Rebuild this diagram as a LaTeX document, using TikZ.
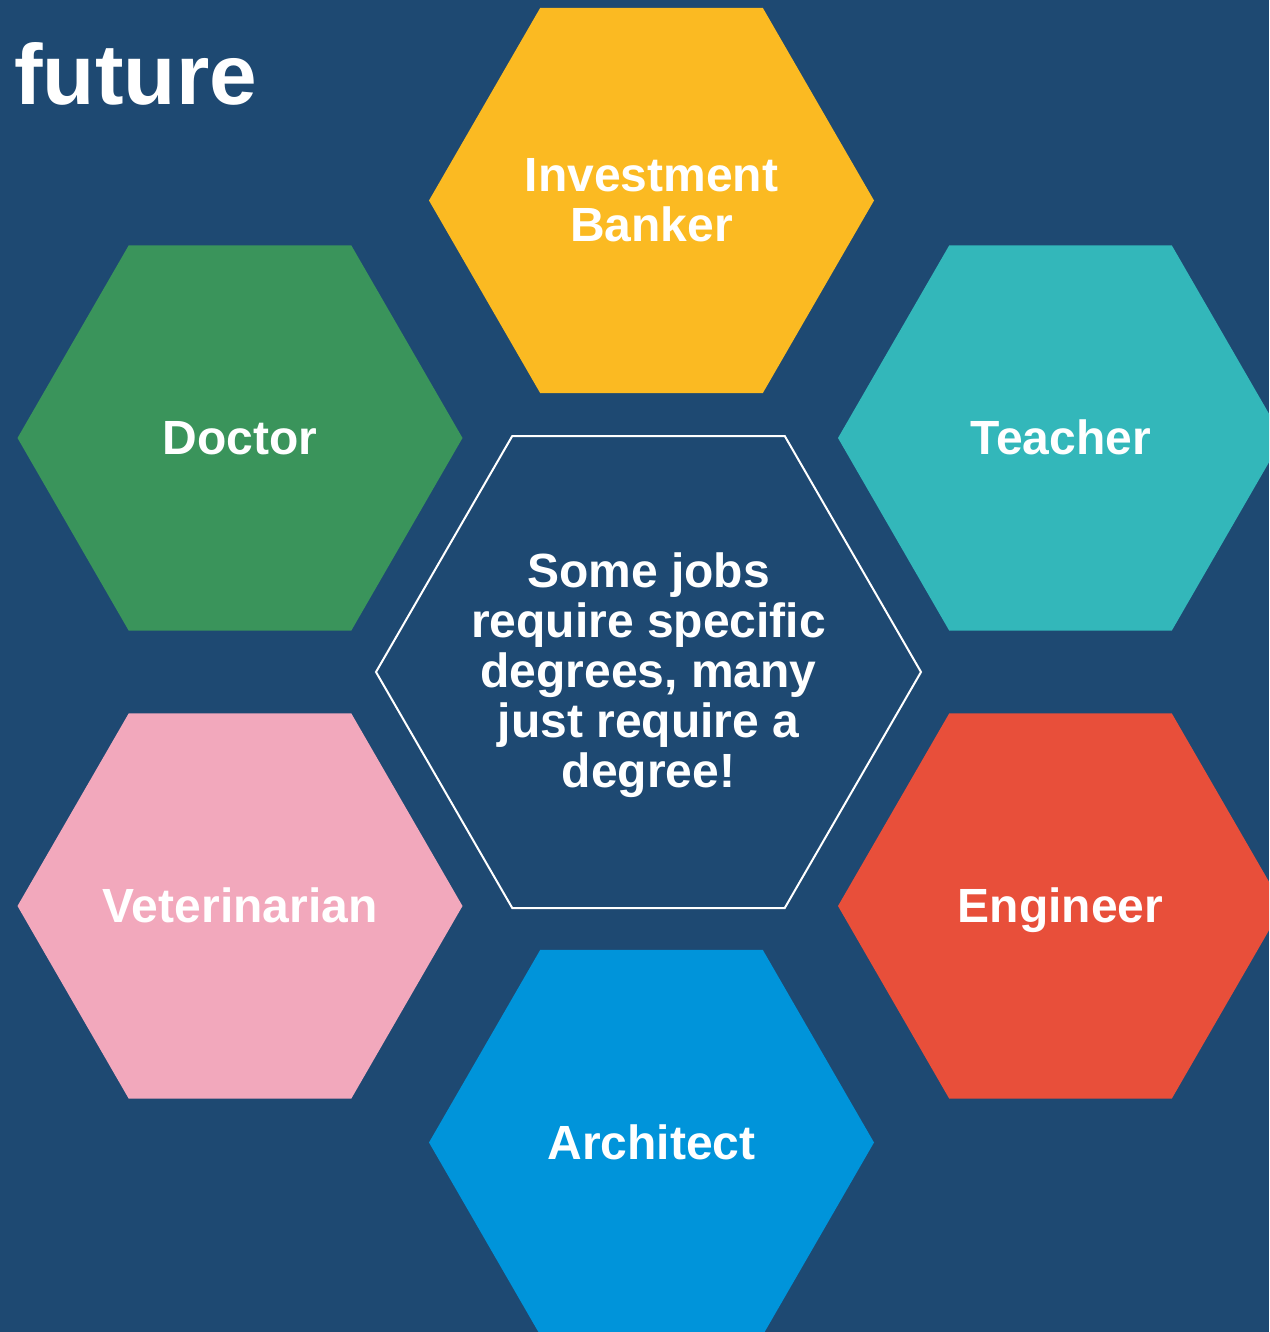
\documentclass[tikz,border=0pt]{standalone}
\usepackage{fontspec}
\setmainfont{Liberation Sans}
\usetikzlibrary{shapes.geometric}

\definecolor{bgblue}{RGB}{30,73,114}
\definecolor{hexyellow}{RGB}{251,186,34}
\definecolor{hexgreen}{RGB}{58,148,91}
\definecolor{hexteal}{RGB}{51,183,186}
\definecolor{hexpink}{RGB}{242,168,188}
\definecolor{hexred}{RGB}{232,79,58}
\definecolor{hexblue}{RGB}{0,148,218}

\begin{document}
\begin{tikzpicture}[x=0.5pt,y=-0.5pt,
  hex/.style={regular polygon,regular polygon sides=6,minimum size=222.5pt,
    inner sep=0pt,outer sep=0pt},
  main hex/.style={hex,minimum size=272.5pt,draw=white,line width=1pt,fill=bgblue},
  hex text/.style={inner sep=0pt,text=white,align=center,
    font=\fontsize{24}{25}\selectfont\bfseries},
  one line/.style={hex text,text height=21.7pt,text depth=5.1pt}]

  \useasboundingbox (0,0) rectangle (1269,1332);
  \clip (0,0) rectangle (1269,1332);
  \fill[bgblue] (0,0) rectangle (1269,1332);

  \node[anchor=base west,inner sep=0pt,text=white,
    font=\fontsize{42.8}{44}\selectfont\bfseries] (title) at (14,105) {future};

  \node[hex,fill=hexyellow,label={[hex text]center:Investment\\Banker}] (banker) at (651.5,200.5) {};
  \node[hex,fill=hexgreen,label={[one line]center:Doctor}] (doctor) at (240,438) {};
  \node[hex,fill=hexteal,label={[one line]center:Teacher}] (teacher) at (1060.5,438) {};
  \node[hex,fill=hexpink,label={[one line]center:Veterinarian}] (vet) at (240,906) {};
  \node[hex,fill=hexred,label={[one line]center:Engineer}] (engineer) at (1060.5,906) {};
  \node[hex,fill=hexblue,label={[one line]center:Architect}] (architect) at (651.5,1142.5) {};

  \node[main hex,label={[hex text,yshift=-1.5pt]center:Some jobs\\require specific\\degrees, many\\just require a\\degree!}]
    (degree) at (648.5,672) {};
\end{tikzpicture}
\end{document}
